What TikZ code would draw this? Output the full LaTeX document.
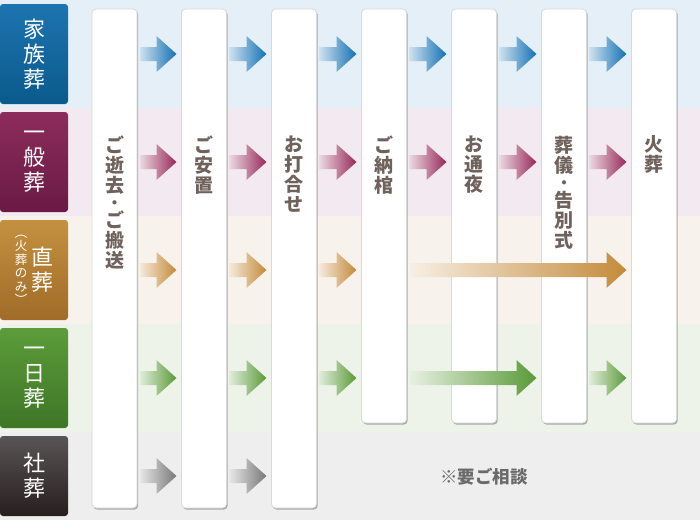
\documentclass[tikz,border=0pt]{standalone}
\usepackage{fontspec}
\setmainfont{Noto Sans CJK JP}
\usetikzlibrary{calc,shadows}
\definecolor{bandblue}{RGB}{228,239,247}
\definecolor{bandpink}{RGB}{243,233,240}
\definecolor{bandgold}{RGB}{247,243,236}
\definecolor{bandgreen}{RGB}{238,243,234}
\definecolor{bandgray}{RGB}{238,238,238}
\definecolor{arrowblue}{RGB}{20,112,180}
\definecolor{arrowpink}{RGB}{150,40,90}
\definecolor{arrowgold}{RGB}{196,138,58}
\definecolor{arrowgreen}{RGB}{90,154,56}
\definecolor{arrowgray}{RGB}{120,120,120}
\definecolor{stagegray}{RGB}{111,98,92}
\definecolor{notegray}{RGB}{106,106,106}

\begin{document}
\begin{tikzpicture}[x=1pt,y=-1pt,
  every node/.style={inner sep=0pt,outer sep=0pt},
  kind/.style={rounded corners=3pt,minimum width=68pt,minimum height=100pt,text=white,align=center,font=\fontsize{22}{25}\selectfont},
  stage/.style={draw=black!15,line width=.8pt,fill=white,rounded corners=4pt,minimum width=45pt,anchor=north,
    drop shadow={shadow xshift=1.2pt,shadow yshift=-1.6pt,fill=black!45,opacity=.7}},
  stagetext/.style={anchor=north,align=center,text=stagegray,font=\bfseries\fontsize{19}{20}\selectfont},
  flow/.style={to path={let \p1=(\tikztostart),\p2=(\tikztotarget) in
    (\x1+3pt,\y1+7pt) -- (\x2-25pt,\y1+7pt) -- (\x2-25pt,\y1+18pt) -- (\x2-5pt,\y1)
    -- (\x2-25pt,\y1-18pt) -- (\x2-25pt,\y1-7pt) -- (\x1+3pt,\y1-7pt) -- cycle}},
  blueflow/.style={left color=arrowblue!15,right color=arrowblue},
  pinkflow/.style={left color=arrowpink!12,right color=arrowpink},
  goldflow/.style={left color=arrowgold!12,right color=arrowgold},
  greenflow/.style={left color=arrowgreen!12,right color=arrowgreen},
  grayflow/.style={left color=arrowgray!12,right color=arrowgray}]
\useasboundingbox (0,0) rectangle (700,520);
% row bands
\fill[bandblue] (0,0) rectangle (700,108);
\fill[bandpink] (0,108) rectangle (700,216);
\fill[bandgold] (0,216) rectangle (700,324);
\fill[bandgreen] (0,324) rectangle (700,432);
\fill[bandgray] (0,432) rectangle (700,520);
% kinds of funeral
\node[kind,top color={rgb,255:red,29;green,116;blue,175},bottom color={rgb,255:red,10;green,90;blue,140}] (r1) at (34,54) {家\\族\\葬};
\node[kind,top color={rgb,255:red,140;green,44;blue,92},bottom color={rgb,255:red,106;green,26;blue,68}] (r2) at (34,162) {一\\般\\葬};
\node[kind,top color={rgb,255:red,196;green,144;blue,64},bottom color={rgb,255:red,160;green,108;blue,40}] (r3) at (34,270) {};
\node[text=white,align=center,font=\fontsize{22}{25}\selectfont] (r3big) at ([xshift=8pt]r3.center) {直\\葬};
\node[text=white,align=center,font=\fontsize{12.5}{13.5}\selectfont] (r3small) at ([xshift=-13pt]r3.center) {︵\\火\\葬\\の\\み\\︶};
\node[kind,top color={rgb,255:red,92;green,156;blue,58},bottom color={rgb,255:red,62;green,118;blue,38}] (r4) at (34,378) {一\\日\\葬};
\node[kind,minimum height=80pt,top color={rgb,255:red,88;green,84;blue,85},bottom color={rgb,255:red,40;green,30;blue,30}] (r5) at (34,476) {社\\葬};
% stages
\node[stage,minimum height=499pt] (c1) at (114.5,9) {};
\node[stage,minimum height=499pt] (c2) at (204,9) {};
\node[stage,minimum height=499pt] (c3) at (294,9) {};
\node[stage,minimum height=414pt] (c4) at (384,9) {};
\node[stage,minimum height=414pt] (c5) at (474,9) {};
\node[stage,minimum height=414pt] (c6) at (564,9) {};
\node[stage,minimum height=414pt] (c7) at (654,9) {};
\coordinate (textline) at (0,136);
\node[stagetext] (t1) at (c1 |- textline) {ご\\逝\\去\\[-4pt]{\fontsize{15}{15}\selectfont ・}\\[-1pt]ご\\搬\\送};
\node[stagetext] (t2) at (c2 |- textline) {ご\\安\\置};
\node[stagetext] (t3) at (c3 |- textline) {お\\打\\合\\せ};
\node[stagetext] (t4) at (c4 |- textline) {ご\\納\\棺};
\node[stagetext] (t5) at (c5 |- textline) {お\\通\\夜};
\node[stagetext] (t6) at (c6 |- textline) {葬\\儀\\[-4pt]{\fontsize{15}{15}\selectfont ・}\\[-1pt]告\\別\\式};
\node[stagetext] (t7) at (c7 |- textline) {火\\葬};
% 家族葬
\path[blueflow] (c1.east |- r1) to[flow] (c2.west |- r1);
\path[blueflow] (c2.east |- r1) to[flow] (c3.west |- r1);
\path[blueflow] (c3.east |- r1) to[flow] (c4.west |- r1);
\path[blueflow] (c4.east |- r1) to[flow] (c5.west |- r1);
\path[blueflow] (c5.east |- r1) to[flow] (c6.west |- r1);
\path[blueflow] (c6.east |- r1) to[flow] (c7.west |- r1);
% 一般葬
\path[pinkflow] (c1.east |- r2) to[flow] (c2.west |- r2);
\path[pinkflow] (c2.east |- r2) to[flow] (c3.west |- r2);
\path[pinkflow] (c3.east |- r2) to[flow] (c4.west |- r2);
\path[pinkflow] (c4.east |- r2) to[flow] (c5.west |- r2);
\path[pinkflow] (c5.east |- r2) to[flow] (c6.west |- r2);
\path[pinkflow] (c6.east |- r2) to[flow] (c7.west |- r2);
% 直葬
\path[goldflow] (c1.east |- r3) to[flow] (c2.west |- r3);
\path[goldflow] (c2.east |- r3) to[flow] (c3.west |- r3);
\path[goldflow] (c3.east |- r3) to[flow] (c4.west |- r3);
\path[goldflow] (c4.east |- r3) to[flow] (c7.west |- r3);
% 一日葬
\path[greenflow] (c1.east |- r4) to[flow] (c2.west |- r4);
\path[greenflow] (c2.east |- r4) to[flow] (c3.west |- r4);
\path[greenflow] (c3.east |- r4) to[flow] (c4.west |- r4);
\path[greenflow] (c4.east |- r4) to[flow] (c6.west |- r4);
\path[greenflow] (c6.east |- r4) to[flow] (c7.west |- r4);
% 社葬
\path[grayflow] (c1.east |- r5) to[flow] (c2.west |- r5);
\path[grayflow] (c2.east |- r5) to[flow] (c3.west |- r5);
\node[text=notegray,font=\bfseries\fontsize{17.5}{20}\selectfont] (note) at (484,477) {※要ご相談};
\end{tikzpicture}
\end{document}
